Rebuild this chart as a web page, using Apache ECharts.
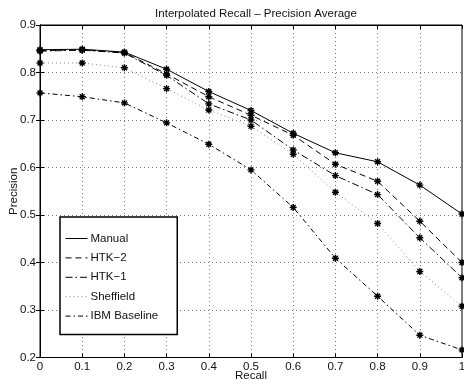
<!DOCTYPE html>
<html><head><meta charset="utf-8">
<script src="https://cdn.jsdelivr.net/npm/echarts@6/dist/echarts.min.js"></script>
<style>html,body{margin:0;padding:0;background:#fff}#c{width:464px;height:385px}</style>
</head><body><div id="c"></div>
<script>
var recall = [0,0.1,0.2,0.3,0.4,0.5,0.6,0.7,0.8,0.9,1.0];
var manual = [0.848,0.849,0.843,0.807,0.760,0.720,0.672,0.631,0.612,0.563,0.502];
var htk2 = [0.846,0.848,0.842,0.797,0.749,0.710,0.668,0.607,0.571,0.487,0.400];
var htk1 = [0.845,0.847,0.841,0.794,0.734,0.700,0.637,0.583,0.543,0.452,0.368];
var sheffield = [0.820,0.820,0.810,0.766,0.721,0.687,0.628,0.548,0.482,0.381,0.308];
var ibm = [0.757,0.749,0.736,0.694,0.649,0.595,0.516,0.409,0.329,0.247,0.216];
var names = ['Manual','HTK\u22122','HTK\u22121','Sheffield','IBM Baseline'];
var seriesVals = [manual, htk2, htk1, sheffield, ibm];
var dashes = ['solid',[6,4],[7,3,1.5,3],[1,3],[5,3,1.5,3]];
var lineColors = ['#000','#000','#000','#888','#000'];
var FONT = 'Liberation Sans';
var star = 'path://M0,-10L0,10M-10,0L10,0M-7,-7L7,7M-7,7L7,-7';

function pairs(v){ return recall.map(function(r,i){ return [r, v[i]]; }); }

var chart = echarts.init(document.getElementById('c'), null, {renderer:'canvas'});
var series = seriesVals.map(function(v,i){
  return {
    name: names[i], type:'line', data: pairs(v), xAxisIndex:0, yAxisIndex:0,
    symbol: star, symbolSize: 7, showSymbol:true,
    itemStyle:{color:'none', borderColor:'#000', borderWidth:1.4},
    lineStyle:{color: lineColors[i], width:1, type: dashes[i]},
    emphasis:{disabled:true}, animation:false, z: 3+i, clip:false
  };
});
chart.setOption({
  animation:false,
  textStyle:{fontFamily:FONT},
  title:{text:'Interpolated Recall \u2013 Precision Average', left:251, top:3, textAlign:'center',
    textStyle:{fontSize:11.5, fontWeight:'normal', color:'#111', fontFamily:FONT}},
  grid:{left:40, right:2, top:25, bottom:27.5, show:true, borderColor:'#000', borderWidth:1,
    containLabel:false, outerBoundsMode:'none'},
  legend:{
    orient:'vertical', left:60, top:217, 
    backgroundColor:'#fff', borderColor:'#000', borderWidth:1.5, padding:[15,19,12,5],
    itemWidth:22, itemHeight:10, itemGap:6.4,
    itemStyle:{opacity:0},
    lineStyle:{width:1},
    textStyle:{fontSize:11.5, color:'#111', fontFamily:FONT, padding:[0,0,0,-2]},
    data: names
  },
  xAxis:[
    {type:'value', min:0, max:1, interval:0.1, position:'bottom', name:'Recall', nameLocation:'middle', nameGap:12,
     nameMoveOverlap:false,
     nameTextStyle:{fontSize:11.5, color:'#111', fontFamily:FONT},
     axisLine:{show:true, lineStyle:{color:'#000', width:1}},
     axisTick:{show:true, inside:true, length:4, lineStyle:{color:'#000'}},
     axisLabel:{fontSize:11.5, color:'#111', margin:3, fontFamily:FONT},
     splitLine:{show:true, lineStyle:{color:'#777', type:[1,3], width:1}}},
    {type:'value', min:0, max:1, interval:0.1, position:'top',
     axisLine:{show:true, lineStyle:{color:'#000'}},
     axisTick:{show:true, inside:true, length:4, lineStyle:{color:'#000'}},
     axisLabel:{show:false}, splitLine:{show:false}}
  ],
  yAxis:[
    {type:'value', min:0.2, max:0.9, interval:0.1, position:'left', name:'Precision', nameLocation:'middle', nameGap:20,
     nameMoveOverlap:false,
     nameTextStyle:{fontSize:11.5, color:'#111', fontFamily:FONT},
     axisLine:{show:true, lineStyle:{color:'#000', width:1}},
     axisTick:{show:true, inside:true, length:4, lineStyle:{color:'#000'}},
     axisLabel:{fontSize:11.5, color:'#111', margin:4, fontFamily:FONT},
     splitLine:{show:true, lineStyle:{color:'#777', type:[1,3], width:1}}},
    {type:'value', min:0.2, max:0.9, interval:0.1, position:'right',
     axisLine:{show:true, lineStyle:{color:'#000'}},
     axisTick:{show:true, inside:true, length:4, lineStyle:{color:'#000'}},
     axisLabel:{show:false}, splitLine:{show:false}}
  ],
  series: series
});
</script></body></html>
